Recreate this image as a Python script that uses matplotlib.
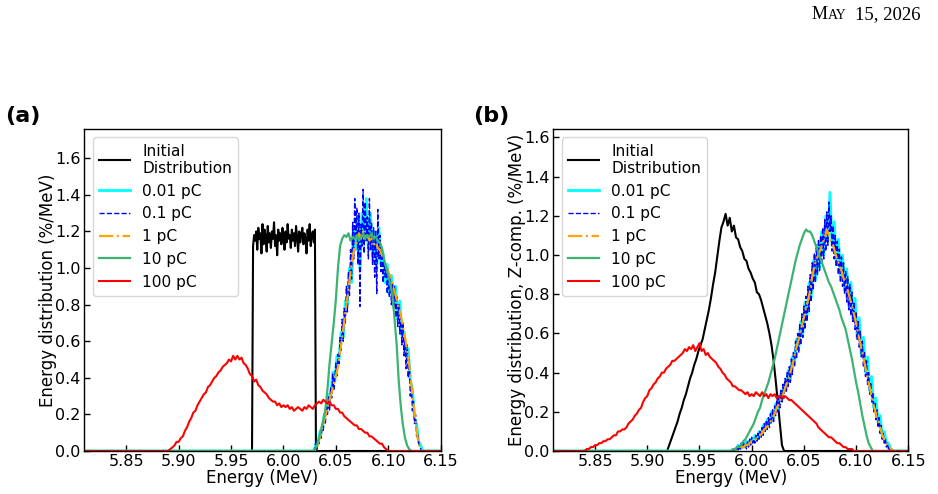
import numpy as np
import matplotlib
matplotlib.use("Agg")
import matplotlib.pyplot as plt

# ---------------- axes / labels ----------------
E_MIN, E_MAX = 5.81, 6.15
x_ticks = [5.85, 5.90, 5.95, 6.00, 6.05, 6.10, 6.15]
y_ticks = [0.0, 0.2, 0.4, 0.6, 0.8, 1.0, 1.2, 1.4, 1.6]
legend_labels = ["Initial\nDistribution", "0.01 pC", "0.1 pC", "1 pC", "10 pC", "100 pC"]
xlabel = "Energy (MeV)"
ylabel_a = "Energy distribution (%/MeV)"
ylabel_b = "Energy distribution, Z-comp. (%/MeV)"
panel_labels = ["(a)", "(b)"]
header_parts = ["M", "AY", "15, 2026"]

# ---------------- panel (a) data : (start energy, bin step, values) ----------------
init_a_start, init_a_step = 5.970, 0.001
init_a = [0.0, 1.12, 1.18, 1.15, 1.20, 1.10, 1.22, 1.16, 1.19, 1.08, 1.24, 1.13, 1.21, 1.17, 1.09, 1.23,
          1.14, 1.19, 1.11, 1.20, 1.16, 1.25, 1.12, 1.18, 1.07, 1.21, 1.15, 1.19, 1.13, 1.22, 1.17,
          1.10, 1.20, 1.14, 1.24, 1.16, 1.18, 1.11, 1.21, 1.15, 1.19, 1.12, 1.23, 1.17, 1.09, 1.20,
          1.14, 1.18, 1.22, 1.13, 1.19, 1.16, 1.08, 1.21, 1.15, 1.24, 1.12, 1.18, 1.20, 1.14, 1.21, 0.0]

cyan_a_start, cyan_a_step = 6.029, 0.002
cyan_a = [0.00, 0.04, 0.05, 0.11, 0.12, 0.20, 0.21, 0.31, 0.30, 0.43, 0.38, 0.52, 0.50, 0.65, 0.62,
          0.82, 0.80, 1.00, 0.92, 1.20, 1.10, 1.28, 1.00, 1.30, 1.15, 1.38, 1.10, 1.30, 1.05, 1.20,
          1.00, 1.22, 1.02, 1.08, 0.92, 1.02, 0.86, 0.96, 0.80, 0.90, 0.72, 0.82, 0.63, 0.65, 0.52,
          0.56, 0.38, 0.34, 0.18, 0.15, 0.05, 0.03, 0.00]

blue_a_start, blue_a_step = 6.029, 0.001
blue_a = [0.00, 0.02, 0.05, 0.01, 0.06, 0.04, 0.10, 0.07, 0.14, 0.11, 0.19, 0.15, 0.24, 0.20, 0.30,
          0.22, 0.35, 0.29, 0.42, 0.33, 0.40, 0.48, 0.41, 0.53, 0.47, 0.62, 0.55, 0.72, 0.60, 0.78,
          0.70, 0.90, 0.76, 0.98, 0.85, 1.10, 0.94, 1.25, 1.05, 1.38, 1.18, 1.33, 1.02, 1.30, 0.79,
          1.24, 1.12, 1.43, 1.08, 1.36, 1.15, 1.28, 1.05, 1.38, 1.10, 1.25, 1.02, 1.22, 0.95, 1.20,
          0.86, 1.32, 1.05, 1.18, 0.98, 1.10, 0.92, 1.05, 0.95, 1.01, 0.86, 0.99, 0.84, 0.95, 0.80,
          0.92, 0.78, 0.90, 0.73, 0.85, 0.68, 0.80, 0.64, 0.75, 0.58, 0.70, 0.52, 0.62, 0.45, 0.58,
          0.40, 0.50, 0.30, 0.38, 0.22, 0.28, 0.15, 0.20, 0.08, 0.10, 0.04, 0.03, 0.01, 0.00]

orange_a_start, orange_a_step = 6.030, 0.002
orange_a = [0.00, 0.02, 0.06, 0.10, 0.15, 0.19, 0.24, 0.28, 0.32, 0.37, 0.41, 0.46, 0.54, 0.62, 0.71,
            0.80, 0.88, 0.98, 1.06, 1.12, 1.15, 1.19, 1.16, 1.20, 1.17, 1.18, 1.15, 1.16, 1.13, 1.14,
            1.11, 1.10, 1.07, 1.04, 1.01, 0.98, 0.95, 0.91, 0.87, 0.83, 0.78, 0.74, 0.68, 0.62, 0.55,
            0.47, 0.36, 0.26, 0.16, 0.07, 0.02, 0.00]

green_a_start, green_a_step = 6.028, 0.002
green_a = [0.00, 0.01, 0.03, 0.07, 0.12, 0.17, 0.23, 0.34, 0.48, 0.59, 0.70, 0.83, 1.00, 1.12, 1.16,
           1.18, 1.17, 1.19, 1.15, 1.17, 1.16, 1.18, 1.15, 1.17, 1.19, 1.16, 1.18, 1.17, 1.19, 1.16,
           1.17, 1.15, 1.14, 1.11, 1.05, 1.00, 0.96, 0.91, 0.85, 0.72, 0.58, 0.38, 0.24, 0.14, 0.07,
           0.03, 0.01, 0.00]

red_a_start, red_a_step = 5.890, 0.002
red_a = [0.00, 0.01, 0.02, 0.03, 0.05, 0.05, 0.07, 0.08, 0.11, 0.13, 0.16, 0.18, 0.21, 0.22, 0.25,
         0.27, 0.29, 0.31, 0.32, 0.35, 0.36, 0.38, 0.40, 0.41, 0.43, 0.44, 0.46, 0.47, 0.48, 0.50,
         0.49, 0.52, 0.50, 0.52, 0.50, 0.51, 0.48, 0.47, 0.45, 0.42, 0.41, 0.38, 0.39, 0.36, 0.35,
         0.33, 0.32, 0.31, 0.29, 0.28, 0.27, 0.27, 0.25, 0.26, 0.24, 0.25, 0.24, 0.25, 0.23, 0.24,
         0.22, 0.23, 0.24, 0.23, 0.22, 0.24, 0.23, 0.25, 0.24, 0.23, 0.25, 0.26, 0.27, 0.26, 0.28,
         0.27, 0.26, 0.27, 0.25, 0.25, 0.23, 0.23, 0.21, 0.21, 0.19, 0.18, 0.17, 0.16, 0.15, 0.14,
         0.14, 0.12, 0.12, 0.11, 0.10, 0.10, 0.08, 0.08, 0.07, 0.06, 0.05, 0.04, 0.04, 0.02, 0.01, 0.00]

# ---------------- panel (b) data ----------------
init_b_start, init_b_step = 5.919, 0.002
init_b = [0.00, 0.03, 0.06, 0.09, 0.12, 0.15, 0.19, 0.22, 0.26, 0.29, 0.33, 0.37, 0.40, 0.44, 0.47,
          0.51, 0.54, 0.57, 0.62, 0.67, 0.72, 0.78, 0.85, 0.91, 0.99, 1.07, 1.14, 1.17, 1.21, 1.15,
          1.19, 1.12, 1.15, 1.09, 1.08, 1.04, 1.02, 0.98, 0.97, 0.93, 0.91, 0.88, 0.86, 0.81, 0.80,
          0.77, 0.73, 0.69, 0.65, 0.60, 0.54, 0.46, 0.36, 0.25, 0.14, 0.03, 0.00]

cyan_b_start, cyan_b_step = 5.985, 0.002
cyan_b = [0.00, 0.03, 0.01, 0.04, 0.02, 0.05, 0.03, 0.06, 0.05, 0.08, 0.06, 0.10, 0.08, 0.13, 0.11,
          0.16, 0.14, 0.20, 0.17, 0.24, 0.21, 0.29, 0.26, 0.34, 0.31, 0.41, 0.36, 0.48, 0.44, 0.57,
          0.52, 0.66, 0.60, 0.76, 0.69, 0.86, 0.78, 0.97, 0.87, 1.05, 0.93, 1.12, 1.00, 1.20, 1.08,
          1.32, 1.05, 1.17, 0.97, 1.08, 0.89, 1.00, 0.82, 0.93, 0.74, 0.86, 0.67, 0.78, 0.58, 0.68,
          0.49, 0.58, 0.40, 0.48, 0.31, 0.38, 0.22, 0.27, 0.15, 0.18, 0.08, 0.10, 0.04, 0.04, 0.01, 0.00]

blue_b_start, blue_b_step = 5.985, 0.001
blue_b = [0.00, 0.02, 0.00, 0.03, 0.01, 0.04, 0.01, 0.05, 0.02, 0.03, 0.01, 0.05, 0.02, 0.06, 0.03,
          0.07, 0.04, 0.06, 0.04, 0.08, 0.05, 0.09, 0.06, 0.10, 0.07, 0.12, 0.08, 0.14, 0.10, 0.15,
          0.11, 0.17, 0.12, 0.19, 0.14, 0.21, 0.15, 0.23, 0.18, 0.26, 0.20, 0.28, 0.22, 0.31, 0.25,
          0.34, 0.27, 0.37, 0.30, 0.40, 0.33, 0.43, 0.35, 0.47, 0.39, 0.51, 0.43, 0.56, 0.47, 0.60,
          0.50, 0.65, 0.54, 0.70, 0.58, 0.74, 0.62, 0.79, 0.66, 0.84, 0.71, 0.90, 0.76, 0.96, 0.82,
          1.01, 0.86, 1.05, 0.90, 1.08, 0.92, 1.10, 0.95, 1.14, 0.98, 1.18, 1.02, 1.22, 1.05, 1.27,
          1.12, 1.20, 1.02, 1.15, 0.98, 1.10, 0.94, 1.07, 0.90, 1.03, 0.86, 0.99, 0.84, 0.96, 0.80,
          0.92, 0.76, 0.89, 0.72, 0.85, 0.69, 0.81, 0.66, 0.76, 0.62, 0.71, 0.57, 0.66, 0.53, 0.61,
          0.48, 0.56, 0.43, 0.51, 0.38, 0.46, 0.34, 0.40, 0.29, 0.35, 0.25, 0.30, 0.20, 0.25, 0.16,
          0.21, 0.12, 0.17, 0.09, 0.13, 0.06, 0.09, 0.04, 0.06, 0.02, 0.04, 0.01, 0.02, 0.00, 0.01, 0.00]

orange_b_start, orange_b_step = 5.986, 0.002
orange_b = [0.00, 0.01, 0.02, 0.02, 0.03, 0.03, 0.04, 0.05, 0.05, 0.06, 0.07, 0.08, 0.09, 0.11, 0.12,
            0.13, 0.15, 0.17, 0.19, 0.22, 0.24, 0.27, 0.29, 0.32, 0.35, 0.38, 0.42, 0.46, 0.51, 0.55,
            0.59, 0.64, 0.68, 0.73, 0.77, 0.82, 0.89, 0.94, 0.98, 1.00, 1.03, 1.06, 1.09, 1.13, 1.10,
            1.07, 1.05, 1.01, 0.98, 0.95, 0.92, 0.88, 0.86, 0.82, 0.78, 0.74, 0.70, 0.65, 0.60, 0.55,
            0.50, 0.45, 0.40, 0.35, 0.30, 0.25, 0.21, 0.17, 0.14, 0.10, 0.07, 0.05, 0.03, 0.02, 0.01, 0.00]

green_b_start, green_b_step = 5.980, 0.002
green_b = [0.00, 0.01, 0.01, 0.02, 0.02, 0.03, 0.05, 0.06, 0.08, 0.10, 0.12, 0.14, 0.17, 0.20, 0.22,
           0.26, 0.29, 0.32, 0.35, 0.39, 0.43, 0.47, 0.52, 0.57, 0.62, 0.67, 0.72, 0.77, 0.82, 0.87,
           0.92, 0.97, 1.01, 1.05, 1.08, 1.11, 1.13, 1.12, 1.12, 1.10, 1.07, 1.04, 1.01, 0.98, 0.95,
           0.92, 0.89, 0.86, 0.84, 0.81, 0.78, 0.75, 0.72, 0.68, 0.65, 0.62, 0.57, 0.52, 0.47, 0.41,
           0.35, 0.30, 0.24, 0.18, 0.13, 0.08, 0.04, 0.02, 0.00]

red_b_start, red_b_step = 5.838, 0.002
red_b = [0.00, 0.00, 0.01, 0.01, 0.02, 0.02, 0.03, 0.03, 0.04, 0.04, 0.05, 0.05, 0.06, 0.06, 0.07,
         0.08, 0.08, 0.10, 0.10, 0.11, 0.11, 0.12, 0.14, 0.15, 0.16, 0.18, 0.19, 0.21, 0.22, 0.25,
         0.27, 0.28, 0.31, 0.32, 0.34, 0.35, 0.37, 0.38, 0.40, 0.40, 0.42, 0.43, 0.44, 0.46, 0.46,
         0.47, 0.48, 0.49, 0.50, 0.52, 0.51, 0.53, 0.52, 0.54, 0.51, 0.53, 0.55, 0.51, 0.52, 0.49,
         0.50, 0.48, 0.47, 0.46, 0.45, 0.43, 0.42, 0.40, 0.39, 0.37, 0.36, 0.35, 0.33, 0.33, 0.32,
         0.31, 0.31, 0.30, 0.29, 0.30, 0.28, 0.29, 0.28, 0.30, 0.29, 0.28, 0.30, 0.28, 0.29, 0.27,
         0.29, 0.28, 0.29, 0.27, 0.28, 0.28, 0.27, 0.28, 0.27, 0.26, 0.26, 0.25, 0.24, 0.23, 0.22,
         0.21, 0.20, 0.19, 0.18, 0.17, 0.16, 0.15, 0.14, 0.12, 0.11, 0.10, 0.09, 0.08, 0.07, 0.07,
         0.06, 0.05, 0.04, 0.04, 0.03, 0.02, 0.02, 0.01, 0.01, 0.01, 0.00, 0.00]

# ---------------- styles ----------------
styles = [
    dict(color="black", lw=1.5, ls="-"),
    dict(color="cyan", lw=2.0, ls="-"),
    dict(color="blue", lw=1.0, ls="--"),
    dict(color="orange", lw=1.6, ls="-."),
    dict(color="mediumseagreen", lw=1.6, ls="-"),
    dict(color="red", lw=1.5, ls="-"),
]


def series(start, step, vals):
    vals = np.asarray(vals, dtype=float)
    x = start + step * np.arange(len(vals))
    return np.r_[E_MIN, x, E_MAX], np.r_[0.0, vals, 0.0]


panel_a = [(init_a_start, init_a_step, init_a), (cyan_a_start, cyan_a_step, cyan_a),
           (blue_a_start, blue_a_step, blue_a), (orange_a_start, orange_a_step, orange_a),
           (green_a_start, green_a_step, green_a), (red_a_start, red_a_step, red_a)]
panel_b = [(init_b_start, init_b_step, init_b), (cyan_b_start, cyan_b_step, cyan_b),
           (blue_b_start, blue_b_step, blue_b), (orange_b_start, orange_b_step, orange_b),
           (green_b_start, green_b_step, green_b), (red_b_start, red_b_step, red_b)]

plt.rcParams["font.family"] = ["DejaVu Sans"]
fig = plt.figure(figsize=(9.38, 4.94), dpi=100)
W, H = 938.0, 494.0


def make_axes(left_px, right_px, top_px, bottom_px):
    return fig.add_axes([left_px / W, 1 - bottom_px / H, (right_px - left_px) / W, (bottom_px - top_px) / H])


ax_a = make_axes(84.3, 440.7, 129, 451)
ax_b = make_axes(553.3, 908.3, 129, 451)

for ax, data, ylab, ytop in [(ax_a, panel_a, ylabel_a, 1.76), (ax_b, panel_b, ylabel_b, 1.643)]:
    for (s, st, v), sty, lab in zip(data, styles, legend_labels):
        x, y = series(s, st, v)
        ax.plot(x, y, label=lab, **sty)
    ax.set_xlim(E_MIN, E_MAX)
    ax.set_ylim(0, ytop)
    ax.set_xticks(x_ticks)
    ax.set_xticklabels([f"{t:.2f}" for t in x_ticks])
    ax.set_yticks(y_ticks)
    ax.set_yticklabels([f"{t:.1f}" for t in y_ticks])
    ax.tick_params(direction="in", length=4, width=1, labelsize=11.5, pad=2.5,
                   top=False, right=False)
    ax.set_xlabel(xlabel, fontsize=12, labelpad=0)
    ax.set_ylabel(ylab, fontsize=12, labelpad=-1)
    for sp in ax.spines.values():
        sp.set_linewidth(1.0)
    ax.legend(loc="upper left", fontsize=11.1, labelspacing=0.5, borderaxespad=0.55,
              handlelength=2.0, handletextpad=0.8, framealpha=0.8)

fig.text(5 / W, 1 - 122 / H, panel_labels[0], fontsize=16, fontweight="bold", ha="left", va="baseline")
fig.text(473 / W, 1 - 122 / H, panel_labels[1], fontsize=16, fontweight="bold", ha="left", va="baseline")

# running header (small caps)
hdr_base = 1 - 19 / H
hdr_font = "Liberation Serif"
fig.text(812 / W, hdr_base, header_parts[0], fontsize=13, family=hdr_font, ha="left", va="baseline")
fig.text(828 / W, hdr_base, header_parts[1], fontsize=10, family=hdr_font, ha="left", va="baseline")
fig.text(855 / W, hdr_base, header_parts[2], fontsize=13.5, family=hdr_font, ha="left", va="baseline")

fig.savefig("out.png", dpi=100)
